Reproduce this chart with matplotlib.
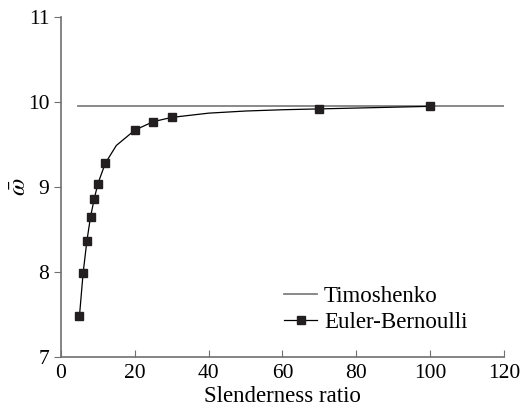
import matplotlib
matplotlib.use("Agg")
import matplotlib.pyplot as plt

plt.rcParams['font.family'] = ['Liberation Serif', 'DejaVu Serif']
plt.rcParams['mathtext.fontset'] = 'stix'

# Data
timo_x = [4.6, 120]
timo_y = [9.95, 9.95]
eb_x = [5, 6, 7, 8, 9, 10, 12, 15, 20, 25, 30, 40, 50, 60, 70, 100]
eb_y = [7.48, 7.99, 8.36, 8.65, 8.86, 9.04, 9.28, 9.49, 9.67, 9.77, 9.82, 9.87, 9.895, 9.91, 9.92, 9.95]
eb_marked = [5, 6, 7, 8, 9, 10, 12, 20, 25, 30, 70, 100]
x_ticks = [0, 20, 40, 60, 80, 100, 120]
y_ticks = [7, 8, 9, 10, 11]

fig = plt.figure(figsize=(5.28, 4.08), dpi=100)
ax = fig.add_axes([0.1155, 0.125, 0.839, 0.833])

ax.plot(timo_x, timo_y, color='#808080', lw=1.3, label='Timoshenko')
mark_idx = [eb_x.index(v) for v in eb_marked]
ax.plot(eb_x, eb_y, color='black', lw=0.9, marker='s', markersize=6,
        markevery=mark_idx, markerfacecolor='#231f20', markeredgecolor='#231f20',
        label='Euler-Bernoulli')

ax.set_xlim(0, 120)
ax.set_ylim(7, 11)
ax.set_xticks(x_ticks)
ax.set_yticks(y_ticks)
for s in ['top', 'right']:
    ax.spines[s].set_visible(False)
for s in ['left', 'bottom']:
    ax.spines[s].set_color('#707070')
    ax.spines[s].set_linewidth(1.2)
ax.tick_params(axis='x', direction='in', length=5, color='#707070', labelsize=15.5, pad=5)
ax.tick_params(axis='y', direction='out', length=5, color='#707070', labelsize=15.5)
ax.set_xlabel('Slenderness ratio', fontsize=16.5, labelpad=2)
ax.set_ylabel(r'$\bar{\omega}$', fontsize=18)
ax.yaxis.set_label_coords(-0.068, 0.5)

leg = ax.legend(loc='lower right', bbox_to_anchor=(0.964, 0.009), frameon=False,
                fontsize=16.5, handlelength=1.45, handletextpad=0.3, labelspacing=0.25)

fig.savefig('out.png', dpi=100)
